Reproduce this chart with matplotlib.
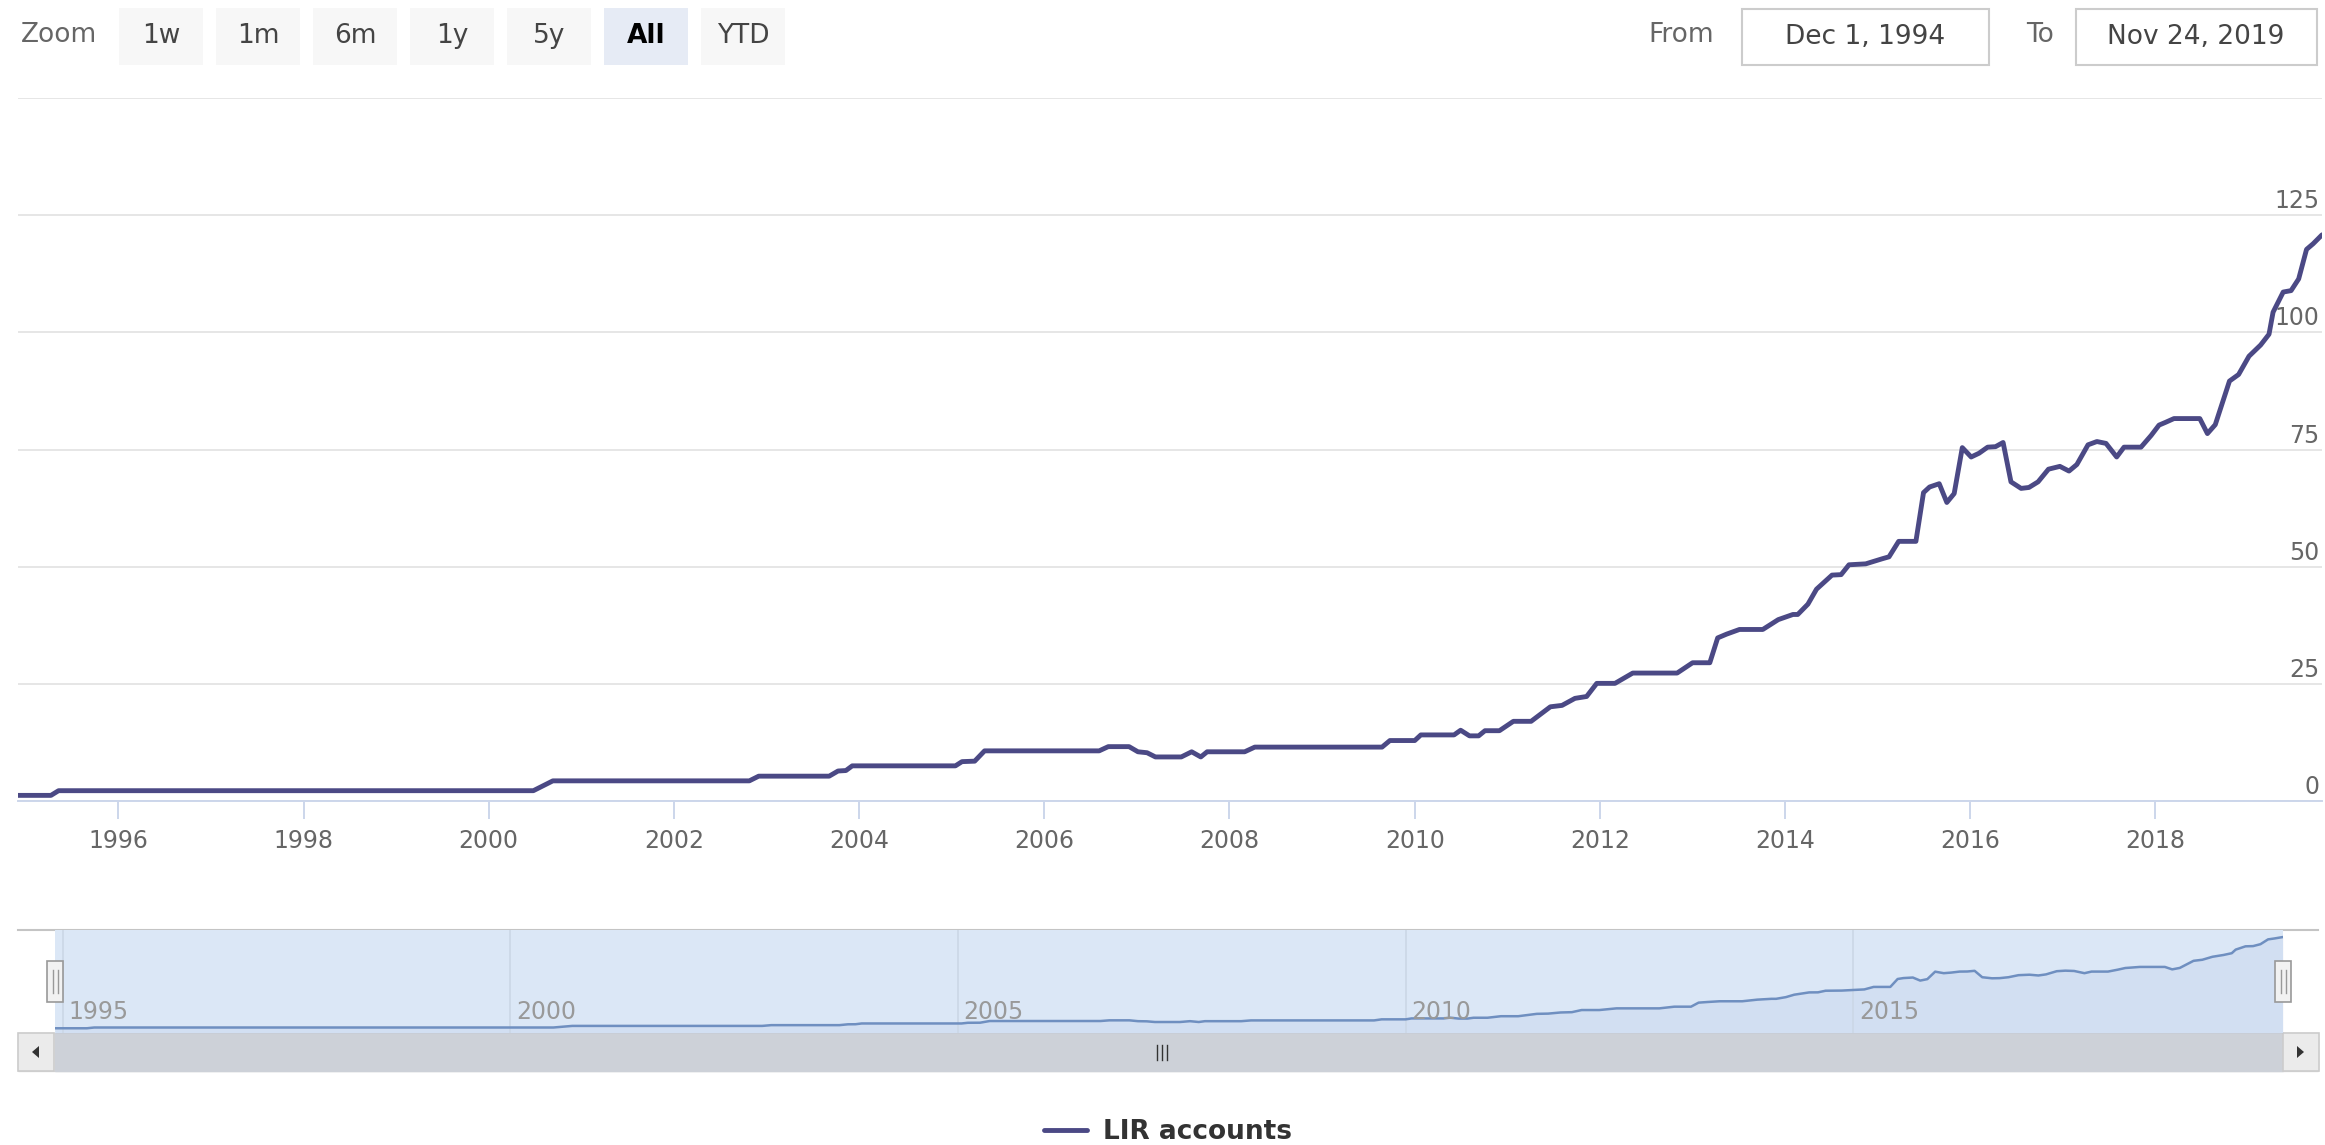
import matplotlib
matplotlib.use("Agg")
import matplotlib.pyplot as plt
import matplotlib.dates as mdates
from matplotlib.patches import Rectangle, Polygon
import pandas as pd

# LIR accounts
dates = ["1994-12-01", "1995-04-10", "1995-05-10", "2000-06-25", "2000-09-10",
         "2002-10-25", "2002-12-01", "2003-09-05", "2003-10-10", "2003-11-10",
         "2003-12-05", "2005-01-15", "2005-02-10", "2005-04-01", "2005-05-10",
         "2006-08-05", "2006-09-10", "2006-12-01", "2007-01-05", "2007-02-10",
         "2007-03-15", "2007-06-25", "2007-08-05", "2007-09-10", "2007-10-05",
         "2008-03-01", "2008-04-10", "2009-08-25", "2009-09-25", "2010-01-01",
         "2010-01-25", "2010-06-05", "2010-07-01", "2010-08-05", "2010-09-10",
         "2010-10-05", "2010-12-01", "2011-01-25", "2011-04-05", "2011-06-20",
         "2011-08-05", "2011-09-25", "2011-11-10", "2011-12-20", "2012-03-01",
         "2012-05-10", "2012-11-01", "2013-01-01", "2013-03-10", "2013-04-10",
         "2013-05-15", "2013-07-05", "2013-10-05", "2013-12-05", "2014-02-01",
         "2014-02-20", "2014-04-01", "2014-05-05", "2014-07-05", "2014-08-10",
         "2014-09-10", "2014-11-15", "2015-01-20", "2015-02-15", "2015-03-25",
         "2015-06-01", "2015-07-01", "2015-07-25", "2015-09-01", "2015-10-01",
         "2015-10-30", "2015-12-01", "2016-01-05", "2016-02-05", "2016-03-10",
         "2016-04-10", "2016-05-10", "2016-06-10", "2016-07-20", "2016-08-20",
         "2016-09-25", "2016-11-05", "2016-12-20", "2017-01-25", "2017-02-25",
         "2017-04-10", "2017-05-15", "2017-06-20", "2017-08-01", "2017-08-30",
         "2017-11-05", "2017-12-15", "2018-01-15", "2018-02-10", "2018-03-15",
         "2018-06-25", "2018-07-25", "2018-08-25", "2018-10-20", "2018-11-25",
         "2019-01-05", "2019-02-20", "2019-03-25", "2019-04-10", "2019-05-20",
         "2019-06-20", "2019-07-20", "2019-08-20", "2019-09-15", "2019-10-20"]
values = [1.2, 1.2, 2.2, 2.2, 4.3,
          4.3, 5.3, 5.3, 6.4, 6.5,
          7.5, 7.5, 8.4, 8.5, 10.7,
          10.7, 11.6, 11.6, 10.5, 10.3,
          9.4, 9.4, 10.5, 9.4, 10.5,
          10.5, 11.5, 11.5, 12.9, 12.9,
          14.1, 14.1, 15.1, 13.9, 13.9,
          15.0, 15.0, 17.0, 17.0, 20.1,
          20.4, 21.9, 22.3, 25.1, 25.1,
          27.3, 27.3, 29.5, 29.5, 34.8,
          35.6, 36.6, 36.6, 38.7, 39.8,
          39.8, 42.0, 45.2, 48.2, 48.3,
          50.4, 50.6, 51.7, 52.1, 55.4,
          55.4, 65.8, 67.0, 67.7, 63.7,
          65.6, 75.4, 73.4, 74.2, 75.5,
          75.6, 76.5, 68.1, 66.7, 66.9,
          68.1, 70.8, 71.4, 70.4, 71.8,
          76.0, 76.7, 76.3, 73.4, 75.5,
          75.5, 78.0, 80.2, 80.8, 81.6,
          81.6, 78.4, 80.3, 89.6, 91.0,
          94.9, 97.3, 99.6, 104.3, 108.6,
          108.9, 111.4, 117.7, 118.9, 120.8]
y_ticks = [0, 25, 50, 75, 100, 125, 150]
zoom_buttons = ["1w", "1m", "6m", "1y", "5y", "All", "YTD"]
selected_button = "All"
range_from = "Dec 1, 1994"
range_to = "Nov 24, 2019"
series_name = "LIR accounts"

x = pd.to_datetime(dates)

LINE = "#4b4985"
W, H = 2325, 1145
plt.rcParams['font.family'] = ['DejaVu Sans']
fig = plt.figure(figsize=(W / 100, H / 100), dpi=100)

def box(l, t, r, b):
    # pixel box (top-left origin) -> figure fraction rect
    return [l / W, 1 - b / H, (r - l) / W, (b - t) / H]

# chrome underneath and on top, in pixel coords
bg = fig.add_axes([0, 0, 1, 1], zorder=0)
bg.set_xlim(0, W); bg.set_ylim(H, 0); bg.axis('off')
fg = fig.add_axes([0, 0, 1, 1], zorder=5)
fg.set_xlim(0, W); fg.set_ylim(H, 0); fg.axis('off')
fg.patch.set_alpha(0)

# ---- range selector
bg.text(59, 35, "Zoom", ha='center', va='center', fontsize=19, color='#666666')
for i, lab in enumerate(zoom_buttons):
    cx = 161 + i * 97
    sel = lab == selected_button
    bg.add_patch(Rectangle((cx - 42, 8), 84, 57, facecolor='#e6ebf5' if sel else '#f7f7f7',
                           edgecolor='none'))
    bg.text(cx, 36, lab, ha='center', va='center', fontsize=19,
            color='#000000' if sel else '#444444', fontweight='bold' if sel else 'normal')

bg.text(1681, 35, "From", ha='center', va='center', fontsize=19, color='#666666')
bg.add_patch(Rectangle((1742, 9), 247, 56, facecolor='white', edgecolor='#cccccc', lw=1.5))
bg.text(1865, 37, range_from, ha='center', va='center', fontsize=19, color='#444444')
bg.text(2040, 35, "To", ha='center', va='center', fontsize=19, color='#666666')
bg.add_patch(Rectangle((2076, 9), 241, 56, facecolor='white', edgecolor='#cccccc', lw=1.5))
bg.text(2196, 37, range_to, ha='center', va='center', fontsize=19, color='#444444')

# ---- main plot
ax = fig.add_axes(box(18, 98, 2322, 801), zorder=1)
ax.patch.set_alpha(0)
ax.plot(x, values, color=LINE, lw=3.5, solid_joinstyle='round', solid_capstyle='round',
        zorder=3, label=series_name)
ax.set_xlim(x[0], x[-1])
ax.set_ylim(0, 150)
ax.set_yticks(y_ticks)
ax.yaxis.grid(True, color='#e6e6e6', lw=1.4)
ax.set_axisbelow(True)
ax.tick_params(axis='y', length=0, labelleft=False, labelright=False)
for s in ['left', 'right', 'top']:
    ax.spines[s].set_visible(False)
ax.spines['bottom'].set_color('#ccd6eb')
ax.spines['bottom'].set_linewidth(1.4)
ax.xaxis.set_major_locator(mdates.YearLocator(2))
ax.xaxis.set_major_formatter(mdates.DateFormatter('%Y'))
ax.tick_params(axis='x', colors='#ccd6eb', labelcolor='#666666', length=13, width=1.4,
               labelsize=17, pad=7)
for v in y_ticks[:-1]:
    ax.annotate(str(v), xy=(1, v), xycoords=('axes fraction', 'data'), xytext=(-2, 10),
                textcoords='offset points', ha='right', va='center', fontsize=17,
                color='#666666', zorder=2)

# ---- navigator
nav = fig.add_axes(box(55, 930, 2283, 1033), zorder=1)
nav.set_facecolor('#dbe7f6')
nav.fill_between(x, values, -5, color='#335cad', alpha=0.05, lw=0)
nav.plot(x, values, color='#6f8fc0', lw=1.8)
nav.set_xlim(x[0], x[-1])
nav.set_ylim(-5, 130)
nav.xaxis.set_major_locator(mdates.YearLocator(5))
nav.xaxis.grid(True, color='#cbd7e6', lw=1.2)
nav.tick_params(length=0, labelbottom=False, labelleft=False)
nav.set_yticks([])
for s in nav.spines.values():
    s.set_visible(False)
for t in nav.get_xticks():
    if nav.get_xlim()[0] <= t <= nav.get_xlim()[1]:
        nav.annotate(mdates.num2date(t).strftime('%Y'), xy=(t, 0.2),
                     xycoords=('data', 'axes fraction'), xytext=(4, 0),
                     textcoords='offset points', ha='left', va='center',
                     fontsize=17, color='#999999')

bg.plot([18, 2318], [930, 930], color='#c4c4c4', lw=1.5)

# handles
for cx in (55, 2283):
    fg.add_patch(Rectangle((cx - 8, 961), 16, 41, facecolor='#f2f2f2', edgecolor='#999999', lw=1.2))
    for dx in (-2.5, 2.5):
        fg.plot([cx + dx, cx + dx], [970, 993], color='#999999', lw=1)

# ---- scrollbar
bg.add_patch(Rectangle((18, 1033), 2300, 38, facecolor='#f2f2f2', edgecolor='#dddddd', lw=1))
bg.add_patch(Rectangle((55, 1033), 2228, 38, facecolor='#cdd1d8', edgecolor='#cdd1d8', lw=1))
for l in (18, 2283):
    bg.add_patch(Rectangle((l, 1033), 36, 38, facecolor='#ebebeb', edgecolor='#cccccc', lw=1.2))
bg.add_patch(Polygon([(32, 1052), (39, 1046), (39, 1058)], closed=True, facecolor='#333333'))
bg.add_patch(Polygon([(2304, 1052), (2297, 1046), (2297, 1058)], closed=True, facecolor='#333333'))
for dx in (-5, 0, 5):
    bg.plot([1162 + dx, 1162 + dx], [1045, 1060], color='#333333', lw=1)

# ---- legend
fig.legend(loc='center', bbox_to_anchor=(1168 / W, 1 - 1132 / H), frameon=False,
           handlelength=1.6, handletextpad=0.6,
           prop={'weight': 'bold', 'size': 19}, labelcolor='#333333')

fig.savefig("out.png", dpi=100)
